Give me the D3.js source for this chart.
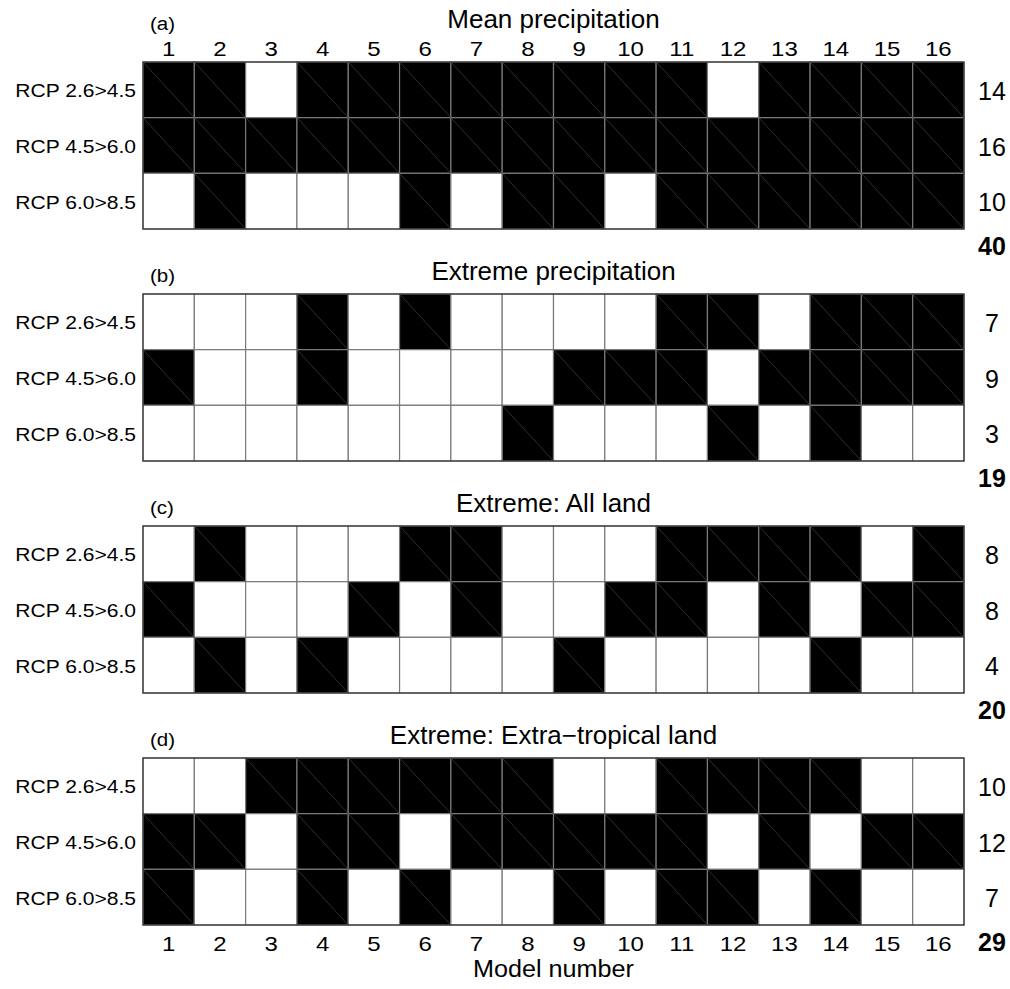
<!DOCTYPE html>
<html>
<head>
<meta charset="utf-8">
<script src="https://cdn.jsdelivr.net/npm/d3@7"></script>
<style>
  html, body { margin: 0; padding: 0; background: #fff; }
  svg { display: block; }
  text { font-family: "Liberation Sans", Arial, Helvetica, sans-serif; fill: #000; }
</style>
</head>
<body>
<svg id="chart" width="1010" height="989"></svg>
<script>
// ---- data ----
const models = [1,2,3,4,5,6,7,8,9,10,11,12,13,14,15,16];
const scenarios = ["RCP 2.6>4.5", "RCP 4.5>6.0", "RCP 6.0>8.5"];
const panelLetters = ["(a)", "(b)", "(c)", "(d)"];
const panelTitles = ["Mean precipitation", "Extreme precipitation", "Extreme: All land", "Extreme: Extra\u2212tropical land"];

// 1 = black cell, 0 = white cell ; rows follow scenarios
const meanPrecip = [
  [1,1,0,1,1,1,1,1,1,1,1,0,1,1,1,1],
  [1,1,1,1,1,1,1,1,1,1,1,1,1,1,1,1],
  [0,1,0,0,0,1,0,1,1,0,1,1,1,1,1,1]
];
const extremePrecip = [
  [0,0,0,1,0,1,0,0,0,0,1,1,0,1,1,1],
  [1,0,0,1,0,0,0,0,1,1,1,0,1,1,1,1],
  [0,0,0,0,0,0,0,1,0,0,0,1,0,1,0,0]
];
const extremeAllLand = [
  [0,1,0,0,0,1,1,0,0,0,1,1,1,1,0,1],
  [1,0,0,0,1,0,1,0,0,1,1,0,1,0,1,1],
  [0,1,0,1,0,0,0,0,1,0,0,0,0,1,0,0]
];
const extremeExtraTropical = [
  [0,0,1,1,1,1,1,1,0,0,1,1,1,1,0,0],
  [1,1,0,1,1,0,1,1,1,1,1,0,1,0,1,1],
  [1,0,0,1,0,1,0,0,1,0,1,1,0,1,0,0]
];
const panelData = [meanPrecip, extremePrecip, extremeAllLand, extremeExtraTropical];

// ---- layout ----
const svg = d3.select("#chart");
const gridLeft = 143, gridRight = 964;
const firstTop = 62, panelStep = 232, panelH = 167;

const x = d3.scaleBand().domain(models).range([gridLeft, gridRight]).padding(0);

function stretchedText(g, tx, ty, str, size, sx, anchor, weight) {
  return g.append("text")
    .attr("transform", `translate(${tx},${ty}) scale(${sx},1)`)
    .attr("text-anchor", anchor)
    .attr("font-size", size)
    .attr("font-weight", weight || "normal")
    .text(str);
}

panelData.forEach((mat, pi) => {
  const top = firstTop + pi * panelStep;
  const y = d3.scaleBand().domain(scenarios).range([top, top + panelH]).padding(0);
  const g = svg.append("g");

  const cells = [];
  mat.forEach((row, ri) => row.forEach((v, ci) => cells.push({s: scenarios[ri], m: models[ci], v})));

  g.selectAll("rect.cell").data(cells).join("rect")
    .attr("class", "cell")
    .attr("x", d => x(d.m))
    .attr("y", d => y(d.s))
    .attr("width", x.bandwidth())
    .attr("height", y.bandwidth())
    .attr("fill", d => d.v ? "#000" : "#fff")
    .attr("stroke", "#7a7a7a")
    .attr("stroke-width", 1.2);

  g.selectAll("line.diag").data(cells.filter(d => d.v)).join("line")
    .attr("class", "diag")
    .attr("x1", d => x(d.m)).attr("y1", d => y(d.s))
    .attr("x2", d => x(d.m) + x.bandwidth()).attr("y2", d => y(d.s) + y.bandwidth())
    .attr("stroke", "#3a3a3a").attr("stroke-width", 0.8);

  g.append("rect")
    .attr("x", gridLeft).attr("y", top)
    .attr("width", gridRight - gridLeft).attr("height", panelH)
    .attr("fill", "none").attr("stroke", "#333").attr("stroke-width", 1.2);

  // row labels
  scenarios.forEach(s => {
    stretchedText(g, 136, y(s) + y.bandwidth() / 2 + 7.5, s, 18, 1.17, "end");
  });

  // counts per row
  mat.forEach((row, ri) => {
    stretchedText(g, 992, y(scenarios[ri]) + y.bandwidth() / 2 + 10, d3.sum(row), 25, 1.0, "middle");
  });
  // total
  stretchedText(g, 992, top + panelH + 26, d3.sum(mat, r => d3.sum(r)), 25, 1.0, "middle", "bold");

  // titles
  const titleBase = pi === 0 ? top - 34 : top - 14;
  stretchedText(g, gridLeft + 7, titleBase + 2, panelLetters[pi], 19, 1.08, "start");
  stretchedText(g, (gridLeft + gridRight) / 2, titleBase, panelTitles[pi], 25, 1.04, "middle");

  if (pi === 0) {
    models.forEach(m => stretchedText(g, x(m) + x.bandwidth() / 2, top - 6, m, 20, 1.2, "middle"));
  }
  if (pi === panelData.length - 1) {
    models.forEach(m => stretchedText(g, x(m) + x.bandwidth() / 2, top + panelH + 26, m, 20, 1.2, "middle"));
    stretchedText(g, (gridLeft + gridRight) / 2, top + panelH + 52, "Model number", 24, 1.05, "middle");
  }
});
</script>
</body>
</html>
